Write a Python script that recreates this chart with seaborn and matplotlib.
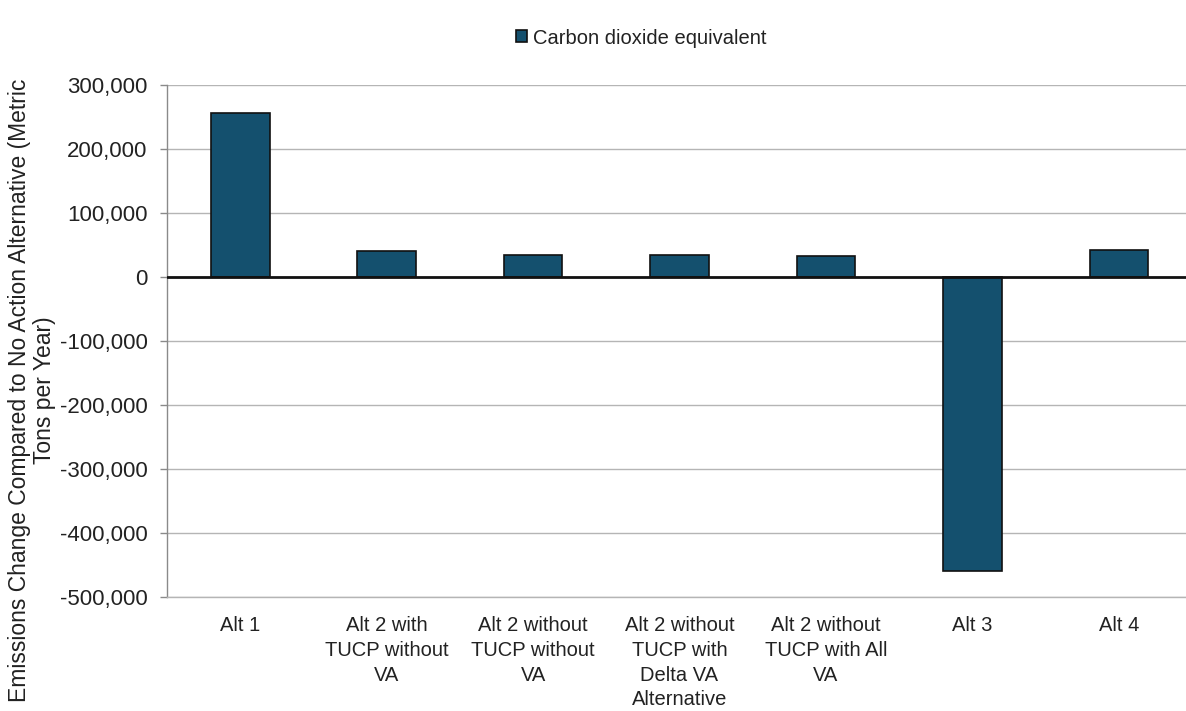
import matplotlib
matplotlib.use("Agg")
import matplotlib.pyplot as plt
import seaborn as sns
import pandas as pd
from matplotlib.ticker import FuncFormatter, MultipleLocator

# Annual CO2-equivalent emissions change relative to the No Action Alternative
alternatives = [
    "Alt 1",
    "Alt 2 with\nTUCP without\nVA",
    "Alt 2 without\nTUCP without\nVA",
    "Alt 2 without\nTUCP with\nDelta VA\nAlternative",
    "Alt 2 without\nTUCP with All\nVA",
    "Alt 3",
    "Alt 4",
]
co2e_change = [257000, 41000, 35000, 35000, 33000, -459000, 42000]
series_name = "Carbon dioxide equivalent"

df = pd.DataFrame({"alternative": alternatives, "change": co2e_change})

sns.set_theme(style="white")
plt.rcParams["font.family"] = ["Liberation Sans", "DejaVu Sans"]
plt.rcParams["font.size"] = 14.5

W, H = 1186, 711
fig = plt.figure(figsize=(W / 100, H / 100), dpi=100)
ax = fig.add_axes([167 / W, (H - 597) / H, 1025 / W, 512 / H])

bar_color = "#14506e"
sns.barplot(data=df, x="alternative", y="change", color=bar_color,
            saturation=1, width=0.4, edgecolor="#111111", linewidth=1.2,
            label=series_name, ax=ax, zorder=3)

ax.set_ylim(-500000, 300000)
ax.yaxis.set_major_locator(MultipleLocator(100000))
ax.yaxis.set_major_formatter(FuncFormatter(lambda v, p: f"{int(v):,}"))
ax.grid(axis="y", color="#b5b5b5", linewidth=1.0, zorder=0)
ax.axhline(0, color="#111111", linewidth=2.0, zorder=4)

for side in ["top", "right"]:
    ax.spines[side].set_visible(False)
ax.spines["left"].set_color("#8a8a8a")
ax.spines["bottom"].set_color("#b5b5b5")
ax.spines["left"].set_linewidth(1.0)
ax.spines["bottom"].set_linewidth(1.0)

ax.tick_params(axis="y", left=True, length=5, width=1, color="#8a8a8a",
               pad=9, labelsize=16, labelcolor="#222222")
ax.tick_params(axis="x", bottom=False, length=0, pad=14,
               labelsize=14.5, labelcolor="#222222")
for lbl in ax.get_xticklabels():
    lbl.set_multialignment("center")
    lbl.set_linespacing(1.37)

ax.set_xlabel("")
ax.set_ylabel("Emissions Change Compared to No Action Alternative (Metric\nTons per Year)",
              fontsize=16.5, color="#222222", multialignment="center",
              linespacing=1.1)
ax.yaxis.set_label_coords(-0.108, 0.404)

leg = ax.get_legend()
if leg is not None:
    leg.remove()
handles, labels = ax.get_legend_handles_labels()
fig.legend(handles[:1], labels[:1], loc="center", bbox_to_anchor=(641 / W, 1 - 38 / H),
           frameon=False, handlelength=0.55, handleheight=0.55, handletextpad=0.3,
           fontsize=14.5, labelcolor="#222222")

fig.savefig("out.png", dpi=100)
